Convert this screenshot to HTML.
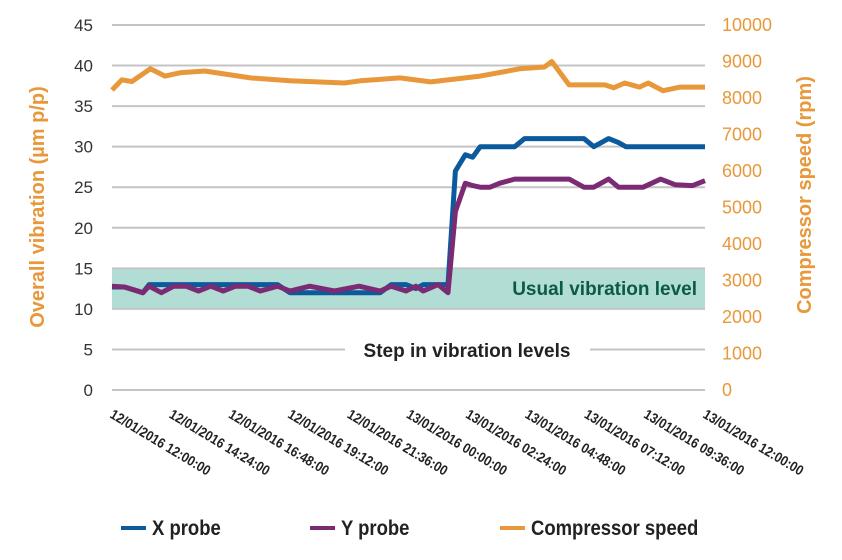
<!DOCTYPE html>
<html><head><meta charset="utf-8"><style>
body{margin:0;background:#fff;}
svg{display:block;font-family:"Liberation Sans",sans-serif;}
</style></head><body>
<svg id="chart" width="842" height="560" viewBox="0 0 842 560"></svg>
<script>
const times = [0,0.5,1.25,1.5,2,2.5,3,3.5,4,4.5,5,5.5,6,6.7,7.2,8,9,10,10.85,11.3,11.9,12.3,12.6,13.2,13.6,13.9,14.3,14.6,14.9,15.3,15.7,16.3,16.7,17.5,18.5,19.1,19.5,20.1,20.5,20.8,21.5,22.2,22.8,23.5,24];
const xProbe = [12.7,12.7,12,13,13,13,13,13,13,13,13,13,13,13,12,12,12,12,12,13,13,12.5,13,13,13,27,29,28.7,30,30,30,30,31,31,31,31,30,31,30.5,30,30,30,30,30,30];
const yProbe = [12.8,12.7,12,12.8,12,12.8,12.8,12.2,12.8,12.2,12.8,12.8,12.2,12.8,12.2,12.8,12.2,12.8,12.2,12.8,12.2,12.8,12.2,13,12,22,25.5,25.2,25,25,25.5,26,26,26,26,25,25,26,25,25,25,26,25.3,25.2,25.8];
const rpmTimes = [0,0.4,0.8,1.55,2.15,2.75,3.75,5.6,7.2,9.4,10.05,11.65,12.9,14.9,16.5,17.5,17.8,18.5,19.95,20.3,20.75,21.35,21.7,22.3,23,24];
const rpm = [8220,8500,8450,8800,8600,8690,8740,8550,8470,8410,8470,8550,8440,8600,8800,8850,9000,8360,8360,8280,8410,8300,8410,8200,8300,8300];
const leftTicks = [0,5,10,15,20,25,30,35,40,45];
const rightTicks = [0,1000,2000,3000,4000,5000,6000,7000,8000,9000,10000];
const xLabels = ["12/01/2016 12:00:00","12/01/2016 14:24:00","12/01/2016 16:48:00","12/01/2016 19:12:00","12/01/2016 21:36:00","13/01/2016 00:00:00","13/01/2016 02:24:00","13/01/2016 04:48:00","13/01/2016 07:12:00","13/01/2016 09:36:00","13/01/2016 12:00:00"];

const svg=document.getElementById('chart');
const NS='http://www.w3.org/2000/svg';
const X0=112,X1=705,Y0=390,Y45=25;
const xs=t=>X0+t/24*(X1-X0);
const yl=v=>Y0-v/45*(Y0-Y45);
const yr=v=>Y0-v/10000*(Y0-Y45);
function mk(tag,attrs,parent){const e=document.createElementNS(NS,tag);for(const k in attrs)e.setAttribute(k,attrs[k]);(parent||svg).appendChild(e);return e;}

const band=mk('rect',{x:X0,y:yl(15),width:X1-X0,height:yl(10)-yl(15),fill:'#b2ddd5'});



leftTicks.forEach(v=>{
  const g=mk('line',{x1:X0,x2:X1,y1:yl(v),y2:yl(v),stroke:'#c4c4c6','stroke-width':2});
  
  
  const t=mk('text',{x:93,y:yl(v)+6,'text-anchor':'end','font-size':17,fill:'#333'});
  t.textContent=v;
  
  
});
rightTicks.forEach(v=>{
  const t=mk('text',{x:722,y:yr(v)+6,'font-size':18,fill:'#e8983a'});
  t.textContent=v;
  
  
});
xLabels.forEach((s,i)=>{
  const x=X0-3+i*(X1-X0)/10;
  const t=mk('text',{x:0,y:0,'font-size':14,'font-weight':'bold',fill:'#222',transform:`translate(${x},${417}) rotate(31) scale(0.88,1)`});
  t.textContent=s;
  
  
});

const bg=mk('rect',{x:345,y:336,width:245,height:26,fill:'#fff'});


const st=mk('text',{x:467,y:357,'text-anchor':'middle','font-size':19,'font-weight':'bold',fill:'#222'});
st.textContent='Step in vibration levels';


const ut=mk('text',{x:697,y:295,'text-anchor':'end','font-size':19,'font-weight':'bold',fill:'#0b5a45'});
ut.textContent='Usual vibration level';



function line(ts,vs,yf,color,name){
  const d=ts.map((t,i)=>(i?'L':'M')+xs(t).toFixed(1)+','+yf(vs[i]).toFixed(1)).join(' ');
  const p=mk('path',{d:d,fill:'none',stroke:color,'stroke-width':5,'stroke-linejoin':'round'});
  
  
}
line(rpmTimes,rpm,yr,'#e8983a','compressor-speed-line');
line(times,xProbe,yl,'#0a5a9c','x-probe-line');
line(times,yProbe,yl,'#7b2a74','y-probe-line');

const lt=mk('text',{x:0,y:0,'text-anchor':'middle','font-size':20,'font-weight':'bold',fill:'#e8983a',transform:'translate(44,207) rotate(-90)'});
lt.textContent='Overall vibration (µm p/p)';


const rt=mk('text',{x:0,y:0,'text-anchor':'middle','font-size':20,'font-weight':'bold',fill:'#e8983a',transform:'translate(811,195) rotate(-90)'});
rt.textContent='Compressor speed (rpm)';



[['X probe','#0a5a9c',121],['Y probe','#7b2a74',310],['Compressor speed','#e8983a',500]].forEach(([n,c,x])=>{
  const g=mk('g',{});
  
  
  mk('line',{x1:x,x2:x+25,y1:528,y2:528,stroke:c,'stroke-width':4},g);
  const t=mk('text',{x:0,y:0,'font-size':21,'font-weight':'bold',fill:'#222',transform:`translate(${x+31},535) scale(0.88,1)`},g);
  t.textContent=n;
});
</script>
</body></html>
